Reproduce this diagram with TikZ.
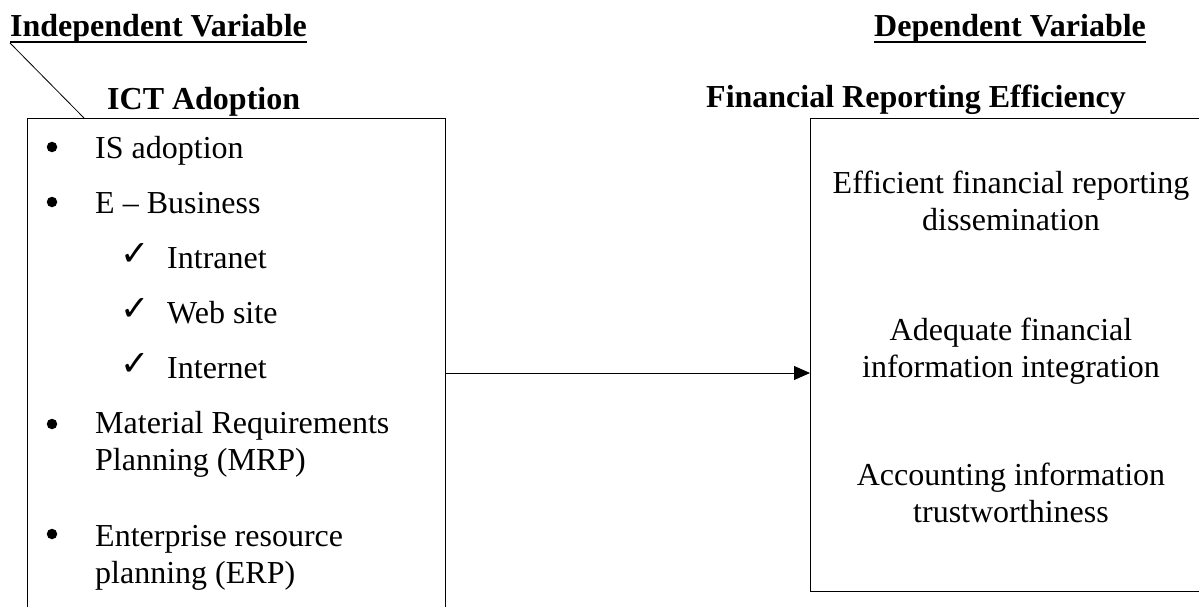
\documentclass[tikz,border=0pt]{standalone}
\usepackage{fontspec}
\setmainfont{Liberation Serif}
\newfontfamily\tickfont{DejaVu Sans}
\usetikzlibrary{arrows.meta}

\tikzset{
	body/.style={inner sep=0pt,font=\fontsize{32}{37}\selectfont},
	head/.style={inner sep=0pt,anchor=base west,font=\fontsize{32}{37}\selectfont\bfseries},
	entry/.style={body,anchor=base west},
	blob/.style={circle,fill=black,inner sep=0pt,minimum size=10.5pt},
	tick/.style={inner sep=0pt,anchor=base west,font=\fontsize{35}{40}\tickfont},
	panel/.style={draw,line width=1pt,anchor=north west,inner sep=0pt},
	result/.style={body,anchor=base,align=center}
}

\begin{document}
\begin{tikzpicture}[x=1pt,y=-1pt]
		\useasboundingbox (0,0) rectangle (1199,607);
		\clip (0,0) rectangle (1199,607);
		
		% Titles
		\node[head] (indep) at (10,37) {Independent Variable};
		\node[head] (dep) at (874,37) {Dependent Variable};
		\draw[line width=1.5pt] ([yshift=-5pt]indep.base west) -- ([yshift=-5pt]indep.base east);
		\draw[line width=1.5pt] ([yshift=-5pt]dep.base west) -- ([yshift=-5pt]dep.base east);
		
		% Boxes
		\node[head] (ict) at (107,110) {ICT Adoption};
		\node[head] (fre) at (706,108) {Financial Reporting Efficiency};
		\node[panel,minimum width=418pt,minimum height=520pt] (ictbox) at (27,118) {};
		\node[panel,minimum width=420pt,minimum height=473pt] (frebox) at (810,118) {};
		
		%% Pointer line
		\coordinate (corner) at (84,118);
		\draw[line width=0.8pt] ([yshift=-6pt]indep.base west) -- (corner);
		
		%% Left list
		\node[blob] (dot1) at (52,147) {};
		\node[entry] (isad) at (95,158) {IS adoption};
		\node[blob] (dot2) at (52,202) {};
		\node[entry] (ebus) at (95,213) {E – Business};
		\node[tick] (tick1) at (120,265) {✓};
		\node[entry] (intra) at (167,268) {Intranet};
		\node[tick] (tick2) at (120,320) {✓};
		\node[entry] (web) at (167,323) {Web site};
		\node[tick] (tick3) at (120,375) {✓};
		\node[entry] (inet) at (167,378) {Internet};
		\node[blob] (dot3) at (52,424) {};
		\node[entry,align=left] (mrp) at (95,470) {Material Requirements\\Planning (MRP)};
		\node[blob] (dot4) at (52,534) {};
		\node[entry,align=left] (erp) at (95,583) {Enterprise resource\\planning (ERP)};
		
		%% Right list
		\node[result] (dissem) at (1011,230) {Efficient financial reporting\\dissemination};
		\node[result] (integ) at (1011,377) {Adequate financial\\information integration};
		\node[result] (trust) at (1011,522) {Accounting information\\trustworthiness};
		
		% Link
		\coordinate (link) at (0,373);
		\draw[line width=1pt,-{Triangle[length=16pt,width=14pt]}] (ictbox.east |- link) -- (frebox.west |- link);
	\end{tikzpicture}
\end{document}
